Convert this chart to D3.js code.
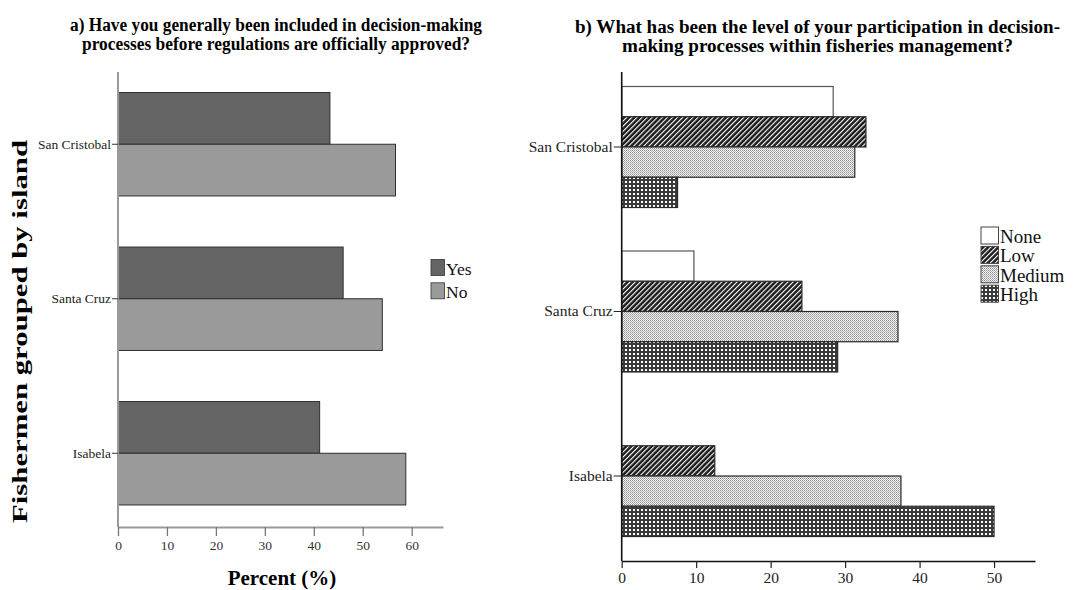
<!DOCTYPE html>
<html>
<head>
<meta charset="utf-8">
<script src="https://cdn.jsdelivr.net/npm/d3@7"></script>
<style>
  html, body { margin: 0; padding: 0; background: #fff; }
  svg { display: block; }
  svg text { font-family: "Liberation Serif", "Times New Roman", serif; }
</style>
</head>
<body>
<svg id="chart" width="1078" height="590"></svg>
<script>
// Islands (categories, top to bottom)
const islands = ["San Cristobal", "Santa Cruz", "Isabela"];

// Panel a: included in decision-making before regulations are approved (%)
const inclusionGroups = ["Yes", "No"];
const inclusionYes = [43.3, 46.0, 41.2];
const inclusionNo  = [56.7, 54.0, 58.8];

// Panel b: level of participation in fisheries management (%)
const levels = ["None", "Low", "Medium", "High"];
const levelNone   = [28.4, 9.7, 0];
const levelLow    = [32.8, 24.2, 12.5];
const levelMedium = [31.3, 37.1, 37.5];
const levelHigh   = [7.5, 29.0, 50.0];

// Axis tick labels
const ticksA = [0, 10, 20, 30, 40, 50, 60];
const ticksB = [0, 10, 20, 30, 40, 50];

const SERIF = "Liberation Serif";
const svg = d3.select("#chart");
const defs = svg.append("defs");

// ---- fill patterns for panel b ----
const pLow = defs.append("pattern").attr("id", "patLow")
  .attr("patternUnits", "userSpaceOnUse").attr("width", 3.6).attr("height", 3.6)
  .attr("patternTransform", "rotate(45)");
pLow.append("rect").attr("width", 3.6).attr("height", 3.6).attr("fill", "#1c1c1c");
pLow.append("rect").attr("width", 1.1).attr("height", 3.6).attr("fill", "#ffffff");

const pMed = defs.append("pattern").attr("id", "patMed")
  .attr("patternUnits", "userSpaceOnUse").attr("width", 2).attr("height", 2);
pMed.append("rect").attr("width", 2).attr("height", 2).attr("fill", "#f4f4f4");
pMed.append("rect").attr("width", 1).attr("height", 1).attr("fill", "#8e8e8e");
pMed.append("rect").attr("x", 1).attr("y", 1).attr("width", 1).attr("height", 1).attr("fill", "#b0b0b0");

const pHigh = defs.append("pattern").attr("id", "patHigh")
  .attr("patternUnits", "userSpaceOnUse").attr("width", 4).attr("height", 4);
pHigh.append("rect").attr("width", 4).attr("height", 4).attr("fill", "#3a3a3a");
pHigh.append("rect").attr("x", 1).attr("y", 1).attr("width", 2).attr("height", 2).attr("fill", "#ffffff");

// ================= Panel a =================
const colorA = d3.scaleOrdinal().domain(inclusionGroups).range(["#646464", "#9a9a9a"]);
const valuesA = { Yes: inclusionYes, No: inclusionNo };

const xA = d3.scaleLinear().domain([0, 66.4]).range([118, 443]);
const yA = d3.scaleBand().domain(islands).range([67, 530.5]);
const subA = d3.scaleBand().domain(inclusionGroups).range([-51.7, 51.7]);

const gA = svg.append("g");

// bars
islands.forEach((isl, i) => {
  const cy = yA(isl) + yA.bandwidth() / 2;
  inclusionGroups.forEach(g => {
    gA.append("rect")
      .attr("x", xA(0))
      .attr("y", cy + subA(g))
      .attr("width", xA(valuesA[g][i]) - xA(0))
      .attr("height", subA.bandwidth())
      .attr("fill", colorA(g))
      .attr("stroke", "#2e2e2e")
      .attr("stroke-width", 1);
  });
});

// vertical axis line
gA.append("line").attr("x1", xA(0)).attr("x2", xA(0)).attr("y1", 72).attr("y2", 527)
  .attr("stroke", "#9a9a9a").attr("stroke-width", 2);

// category axis
const axA = gA.append("g").attr("transform", `translate(${xA(0)},0)`)
  .call(d3.axisLeft(yA).tickSize(6).tickPadding(1));
axA.select(".domain").remove();
axA.selectAll(".tick line").attr("stroke", "#333");
axA.selectAll("text").attr("font-size", 13.5).attr("fill", "#222")
  .attr("font-family", SERIF);

// value axis
const axAx = gA.append("g").attr("transform", "translate(0,527)")
  .call(d3.axisBottom(xA).tickValues(ticksA).tickSize(9).tickSizeOuter(0).tickPadding(4));
axAx.select(".domain").attr("stroke", "#9a9a9a").attr("stroke-width", 2);
axAx.selectAll(".tick line").attr("stroke", "#777").attr("stroke-width", 1.3);
axAx.selectAll("text").attr("font-size", 13.5).attr("fill", "#333")
  .attr("font-family", SERIF);

// legend a
const legA = gA.append("g");
inclusionGroups.forEach((g, i) => {
  const y0 = 259.5 + i * 23.3;
  legA.append("rect").attr("x", 431).attr("y", y0).attr("width", 13.5).attr("height", 16)
    .attr("fill", colorA(g)).attr("stroke", "#333").attr("stroke-width", 0.8);
  legA.append("text").attr("x", 446).attr("y", y0 + 15.5).attr("font-size", 17.5)
    .attr("font-family", SERIF).attr("fill", "#111").text(g);
});

// titles a
gA.append("text").attr("x", 276).attr("y", 30.5).attr("text-anchor", "middle")
  .attr("font-family", SERIF).attr("font-size", 18).attr("font-weight", "bold")
  .attr("textLength", 412).attr("lengthAdjust", "spacingAndGlyphs")
  .text("a) Have you generally been included in decision-making");
gA.append("text").attr("x", 276).attr("y", 49.5).attr("text-anchor", "middle")
  .attr("font-family", SERIF).attr("font-size", 18).attr("font-weight", "bold")
  .attr("textLength", 388).attr("lengthAdjust", "spacingAndGlyphs")
  .text("processes before regulations are officially approved?");

gA.append("text").attr("x", 282).attr("y", 585).attr("text-anchor", "middle")
  .attr("font-family", SERIF).attr("font-size", 21).attr("font-weight", "bold")
  .text("Percent (%)");

gA.append("text").attr("transform", "translate(27,331.5) rotate(-90)")
  .attr("text-anchor", "middle").attr("font-family", SERIF)
  .attr("font-size", 21).attr("font-weight", "bold")
  .attr("textLength", 383).attr("lengthAdjust", "spacingAndGlyphs")
  .text("Fishermen grouped by island");

// ================= Panel b =================
const fillB = d3.scaleOrdinal().domain(levels)
  .range(["#ffffff", "url(#patLow)", "url(#patMed)", "url(#patHigh)"]);
const valuesB = { None: levelNone, Low: levelLow, Medium: levelMedium, High: levelHigh };

const xB = d3.scaleLinear().domain([0, 55.5]).range([621.7, 1035]);
const yB = d3.scaleBand().domain(islands).range([64.75, 558.25]);
const subB = d3.scaleBand().domain(levels).range([-60.5, 60.5]);

const gB = svg.append("g");

islands.forEach((isl, i) => {
  const cy = yB(isl) + yB.bandwidth() / 2;
  levels.forEach(l => {
    const v = valuesB[l][i];
    if (v <= 0) return;
    gB.append("rect")
      .attr("x", xB(0))
      .attr("y", cy + subB(l))
      .attr("width", xB(v) - xB(0))
      .attr("height", subB.bandwidth())
      .attr("fill", fillB(l))
      .attr("stroke", l === "None" ? "#555" : "#2a2a2a")
      .attr("stroke-width", 1.2);
  });
});

gB.append("line").attr("x1", xB(0)).attr("x2", xB(0)).attr("y1", 72).attr("y2", 561)
  .attr("stroke", "#111").attr("stroke-width", 1.6);

const axB = gB.append("g").attr("transform", `translate(${xB(0)},0)`)
  .call(d3.axisLeft(yB).tickSize(8).tickPadding(1));
axB.select(".domain").remove();
axB.selectAll(".tick line").attr("stroke", "#222");
axB.selectAll("text").attr("font-size", 15.5).attr("fill", "#222")
  .attr("font-family", SERIF);

const axBx = gB.append("g").attr("transform", "translate(0,561)")
  .call(d3.axisBottom(xB).tickValues(ticksB).tickSize(7).tickSizeOuter(0).tickPadding(4));
axBx.select(".domain").attr("stroke", "#111").attr("stroke-width", 1.6);
axBx.selectAll(".tick line").attr("stroke", "#222").attr("stroke-width", 1.2);
axBx.selectAll("text").attr("font-size", 15.5).attr("fill", "#222")
  .attr("font-family", SERIF);

// legend b
const legB = gB.append("g");
levels.forEach((l, i) => {
  const y0 = 227 + i * 19.4;
  legB.append("rect").attr("x", 981).attr("y", y0).attr("width", 17.5).attr("height", 17)
    .attr("fill", fillB(l)).attr("stroke", "#444").attr("stroke-width", 1);
  legB.append("text").attr("x", 1000).attr("y", y0 + 16).attr("font-size", 19)
    .attr("font-family", SERIF).attr("fill", "#111").text(l);
});

// titles b
gB.append("text").attr("x", 817.5).attr("y", 32.5).attr("text-anchor", "middle")
  .attr("font-family", SERIF).attr("font-size", 18.5).attr("font-weight", "bold")
  .attr("textLength", 485).attr("lengthAdjust", "spacingAndGlyphs")
  .text("b) What has been the level of your participation in decision-");
gB.append("text").attr("x", 817.5).attr("y", 51.5).attr("text-anchor", "middle")
  .attr("font-family", SERIF).attr("font-size", 18.5).attr("font-weight", "bold")
  .attr("textLength", 391).attr("lengthAdjust", "spacingAndGlyphs")
  .text("making processes within fisheries management?");
</script>
</body>
</html>
